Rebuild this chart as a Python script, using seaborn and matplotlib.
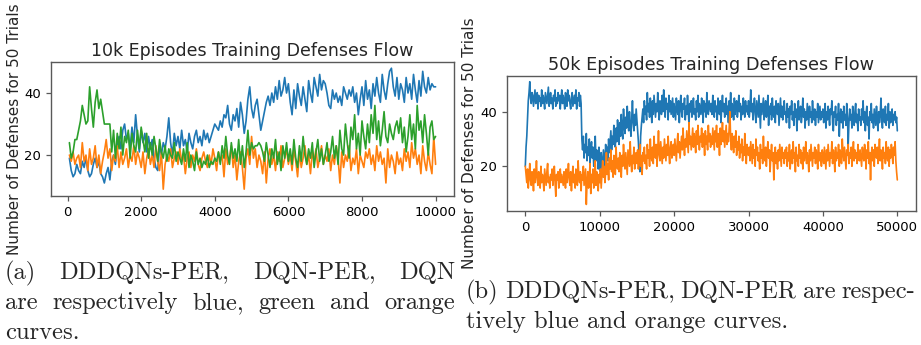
import matplotlib
matplotlib.use("Agg")
import matplotlib.pyplot as plt
import numpy as np
import pandas as pd
import seaborn as sns

# ---- (a) 10k episodes, one value every 50 episodes ----
x_10k = np.arange(50, 10001, 50)
ddqn_per_10k = [
    19, 15, 13, 14, 17, 15, 14, 18, 16, 19, 15, 13, 14, 17, 19, 16, 18, 14, 13, 11,
    14, 16, 12, 18, 20, 17, 23, 26, 22, 28, 30, 25, 27, 22, 29, 24, 33, 26, 21, 28,
    24, 27, 21, 26, 22, 25, 19, 16, 15, 23, 20, 24, 22, 26, 32, 24, 20, 27, 23, 26,
    22, 28, 23, 25, 21, 27, 24, 22, 26, 28, 24, 26, 23, 28, 25, 27, 24, 26, 28, 30,
    29, 28, 31, 29, 33, 32, 36, 30, 28, 33, 31, 35, 29, 37, 33, 27, 31, 38, 42, 35,
    32, 36, 38, 33, 28, 31, 34, 37, 39, 36, 40, 37, 42, 38, 44, 39, 41, 45, 40, 43,
    37, 33, 41, 35, 43, 39, 36, 42, 38, 34, 44, 40, 37, 45, 42, 39, 46, 41, 44, 43,
    40, 36, 35, 41, 38, 40, 37, 39, 36, 42, 40, 38, 41, 39, 42, 37, 40, 33, 38, 42,
    36, 44, 38, 41, 35, 43, 39, 45, 40, 37, 46, 41, 38, 43, 47, 48, 42, 39, 45, 38,
    43, 41, 37, 45, 40, 43, 38, 46, 41, 37, 44, 39, 47, 42, 40, 45, 41, 43, 42, 42,
]
dqn_per_10k = [
    24, 19, 21, 25, 25, 28, 31, 36, 33, 30, 31, 42, 35, 29, 37, 41, 35, 38, 34, 30,
    30, 30, 30, 21, 28, 19, 27, 22, 29, 20, 26, 24, 28, 19, 27, 23, 21, 28, 22, 29,
    25, 21, 27, 19, 24, 20, 26, 22, 18, 25, 21, 19, 23, 18, 22, 20, 19, 24, 18, 21,
    19, 17, 22, 18, 24, 16, 20, 18, 15, 21, 17, 19, 16, 18, 17, 20, 16, 18, 17, 19,
    18, 21, 17, 23, 19, 26, 20, 17, 24, 19, 22, 18, 25, 17, 23, 16, 21, 28, 20, 24,
    22, 23, 23, 24, 23, 21, 18, 24, 20, 16, 22, 19, 25, 17, 21, 15, 23, 19, 24, 18,
    22, 17, 25, 19, 16, 23, 18, 26, 20, 17, 22, 19, 24, 16, 21, 25, 18, 22, 17, 20,
    24, 18, 21, 26, 19, 23, 17, 28, 22, 20, 30, 24, 19, 29, 25, 33, 22, 27, 20, 31,
    26, 22, 30, 24, 33, 27, 36, 25, 31, 23, 28, 34, 26, 24, 30, 27, 25, 29, 31, 27,
    32, 24, 29, 21, 26, 33, 25, 30, 22, 36, 28, 31, 24, 33, 27, 20, 29, 31, 25, 26,
]
dqn_10k = [
    20, 18, 21, 17, 19, 20, 16, 24, 18, 20, 15, 22, 17, 19, 23, 16, 20, 14, 18, 21,
    25, 19, 22, 15, 20, 18, 23, 16, 21, 17, 19, 22, 16, 20, 18, 23, 17, 21, 19, 16,
    21, 14, 19, 22, 17, 20, 16, 23, 18, 15, 21, 9, 17, 20, 18, 22, 16, 19, 21, 17,
    22, 18, 20, 14, 19, 21, 16, 20, 18, 22, 17, 15, 19, 21, 18, 16, 20, 17, 22, 19,
    15, 21, 18, 20, 13, 22, 17, 19, 23, 16, 20, 12, 18, 21, 16, 9, 19, 22, 17, 26,
    19, 22, 16, 20, 18, 14, 21, 11, 19, 22, 17, 20, 15, 21, 18, 23, 16, 19, 22, 17,
    20, 15, 22, 18, 13, 21, 16, 19, 23, 17, 20, 14, 21, 18, 22, 16, 19, 23, 17, 20,
    18, 22, 15, 20, 17, 23, 19, 11, 21, 16, 20, 18, 23, 15, 19, 17, 22, 14, 20, 18,
    16, 21, 19, 22, 17, 20, 15, 23, 18, 21, 17, 19, 11, 22, 16, 20, 18, 14, 21, 17,
    19, 15, 22, 18, 21, 16, 24, 19, 22, 17, 20, 14, 23, 18, 15, 21, 17, 14, 26, 17,
]

# ---- (b) 50k episodes, one value every 100 episodes ----
x_50k = np.arange(0, 50001, 100)
ddqn_per_50k = [
    20, 27, 31, 38, 44, 47, 51, 45, 43, 47, 46, 42, 45, 48, 43, 44, 47, 41, 46, 44,
    45, 42, 48, 43, 46, 44, 41, 47, 45, 43, 46, 49, 42, 44, 47, 43, 45, 41, 46, 44,
    48, 42, 45, 43, 47, 44, 46, 41, 45, 48,
    43, 46, 44, 41, 47, 45, 42, 48, 44, 46, 43, 41, 45, 47, 42, 44, 46, 43, 48, 41,
    45, 44, 47, 42, 46, 43, 30, 26, 31, 23, 28, 25, 32, 22, 27, 24, 30, 21, 26, 29,
    23, 27, 20, 25, 31, 22, 26, 24, 19, 27,
    22, 18, 25, 21, 19, 26, 23, 20, 28, 24, 27, 22, 30, 25, 29, 33, 26, 31, 28, 35,
    30, 27, 34, 29, 37, 32, 28, 36, 31, 39, 33, 30, 41, 35, 32, 38, 34, 42, 36, 33,
    40, 35, 31, 38, 44, 36, 33, 39, 35, 41,
    37, 33, 29, 22, 18, 31, 35, 38, 41, 36, 44, 39, 42, 37, 47, 40, 43, 38, 45, 41,
    36, 44, 39, 46, 42, 38, 43, 40, 47, 41, 37, 44, 42, 39, 46, 40, 48, 42, 38, 45,
    41, 43, 37, 46, 40, 44, 39, 42, 45, 38,
    43, 40, 37, 45, 41, 39, 44, 36, 42, 46, 40, 38, 43, 41, 45, 37, 42, 39, 46, 41,
    35, 43, 40, 44, 38, 42, 45, 39, 41, 37, 44, 40, 46, 38, 43, 41, 39, 45, 42, 36,
    44, 40, 43, 38, 47, 41, 39, 44, 42, 40,
    43, 39, 46, 41, 38, 44, 40, 42, 37, 45, 41, 39, 44, 36, 42, 46, 40, 43, 38, 41,
    45, 39, 42, 36, 44, 40, 47, 38, 43, 41, 37, 45, 39, 42, 44, 38, 41, 46, 40, 43,
    37, 42, 39, 45, 41, 38, 44, 40, 42, 39,
    44, 38, 41, 48, 40, 43, 37, 42, 45, 39, 36, 44, 41, 38, 46, 40, 34, 43, 39, 42,
    45, 37, 41, 44, 38, 40, 46, 35, 42, 39, 43, 37, 45, 40, 38, 42, 36, 44, 41, 39,
    43, 35, 40, 45, 38, 42, 37, 41, 44, 39,
    40, 36, 43, 38, 41, 34, 42, 39, 44, 37, 40, 35, 43, 38, 41, 33, 39, 44, 37, 40,
    42, 36, 39, 45, 38, 41, 34, 40, 37, 43, 39, 35, 42, 38, 40, 36, 44, 39, 37, 41,
    35, 40, 38, 43, 36, 39, 42, 37, 40, 38,
    41, 36, 39, 43, 34, 40, 37, 42, 38, 35, 41, 39, 44, 36, 33, 40, 38, 42, 35, 39,
    37, 43, 31, 38, 41, 36, 40, 34, 42, 37, 39, 35, 43, 38, 28, 36, 41, 37, 39, 34,
    42, 38, 35, 40, 43, 36, 39, 33, 41, 37,
    38, 35, 41, 37, 44, 36, 40, 33, 39, 42, 35, 38, 30, 40, 37, 43, 36, 39, 34, 41,
    38, 35, 42, 37, 33, 40, 36, 39, 45, 37, 34, 41, 38, 36, 42, 35, 39, 37, 43, 34,
    40, 36, 38, 41, 35, 39, 37, 40, 36, 38,
    33,
]
dqn_per_50k = [
    20, 17, 14, 19, 12, 16, 21, 15, 13, 18, 16, 11, 19, 14, 17, 22, 15, 13, 18, 16,
    12, 20, 14, 17, 15, 11, 19, 16, 13, 18, 21, 14, 16, 12, 17, 15, 19, 13, 16, 20,
    14, 9, 17, 15, 18, 12, 16, 19, 14, 17,
    15, 13, 18, 16, 12, 19, 14, 17, 21, 15, 13, 18, 11, 16, 20, 14, 17, 12, 19, 15,
    13, 22, 16, 14, 18, 11, 17, 15, 20, 13, 16, 19, 6, 14, 18, 12, 16, 21, 10, 17,
    14, 19, 12, 16, 22, 13, 18, 15, 11, 17,
    14, 19, 12, 17, 22, 16, 20, 14, 18, 25, 17, 21, 15, 23, 19, 26, 18, 22, 16, 24,
    20, 17, 27, 21, 19, 23, 18, 25, 21, 16, 24, 20, 28, 22, 19, 25, 21, 17, 26, 23,
    20, 29, 22, 18, 24, 21, 27, 19, 23, 25,
    21, 26, 19, 23, 28, 20, 24, 17, 25, 22, 27, 21, 24, 19, 28, 23, 26, 20, 30, 24,
    22, 27, 21, 31, 25, 23, 28, 20, 26, 33, 24, 22, 29, 25, 21, 27, 23, 30, 26, 22,
    28, 24, 31, 25, 21, 27, 29, 23, 26, 28,
    24, 30, 26, 22, 28, 32, 25, 29, 23, 27, 31, 26, 34, 28, 24, 30, 27, 33, 29, 25,
    36, 28, 31, 26, 30, 34, 27, 32, 29, 25, 33, 28, 35, 30, 26, 31, 29, 34, 27, 32,
    30, 24, 33, 28, 31, 26, 35, 29, 32, 27,
    31, 28, 34, 30, 26, 33, 29, 35, 27, 32, 30, 24, 34, 28, 31, 36, 29, 33, 27, 31,
    35, 28, 32, 29, 34, 40, 30, 26, 32, 29, 25, 31, 27, 33, 24, 29, 26, 31, 23, 28,
    25, 30, 22, 27, 24, 32, 26, 21, 28, 25,
    24, 27, 22, 29, 25, 21, 28, 23, 26, 20, 30, 24, 27, 22, 25, 19, 28, 23, 26, 21,
    31, 24, 22, 27, 20, 25, 29, 23, 26, 18, 24, 28, 22, 25, 15, 23, 27, 21, 25, 19,
    26, 22, 28, 24, 20, 27, 23, 25, 21, 26,
    23, 27, 20, 25, 22, 28, 19, 24, 26, 21, 29, 23, 25, 18, 27, 22, 24, 20, 28, 23,
    26, 21, 25, 19, 27, 22, 24, 29, 21, 25, 23, 18, 26, 22, 28, 24, 20, 25, 23, 27,
    21, 26, 24, 19, 28, 22, 25, 23, 20, 26,
    24, 21, 27, 23, 19, 26, 22, 28, 24, 20, 25, 23, 29, 21, 26, 24, 18, 27, 22, 25,
    23, 28, 20, 26, 24, 21, 30, 25, 22, 27, 23, 19, 26, 24, 28, 21, 25, 23, 27, 20,
    24, 29, 22, 26, 23, 25, 21, 28, 24, 22,
    26, 23, 20, 27, 24, 22, 28, 25, 19, 26, 23, 29, 21, 25, 15, 24, 27, 22, 26, 20,
    28, 24, 23, 27, 21, 25, 30, 22, 26, 24, 19, 27, 23, 25, 21, 29, 24, 22, 27, 20,
    26, 23, 28, 25, 21, 27, 24, 29, 22, 18,
    15,
]

COLORS = {"DDDQNs-PER": "#1f77b4", "DQN": "#ff7f0e", "DQN-PER": "#2ca02c"}
YLABEL = "Number of Defenses for 50 Trials"


def long_frame(x, series):
    parts = [pd.DataFrame({"episode": x, "defenses": vals, "model": name}) for name, vals in series]
    return pd.concat(parts, ignore_index=True)


def style_axes(ax):
    for s in ax.spines.values():
        s.set_color("0.35")
        s.set_linewidth(1.0)
    ax.tick_params(colors="0.35", labelcolor="black", labelsize=9.5, length=3.5, width=0.9)


def justify(fig, words, x0, x1, y, size):
    # spread words so the line runs from x0 to x1 (pixels)
    texts = [fig.text(0, 0, w, fontsize=size, family="cmr10", va="baseline",
                      transform=None) for w in words]
    r = fig.canvas.get_renderer()
    widths = [t.get_window_extent(r).width for t in texts]
    gap = (x1 - x0 - sum(widths)) / (len(words) - 1)
    pos = x0
    for t, w in zip(texts, widths):
        t.set_position((pos, y))
        pos += w + gap


sns.set_style("ticks")
plt.rcParams["font.family"] = ["DejaVu Sans"]

H = 345
fig = plt.figure(figsize=(9.21, 3.45), dpi=100)

ax1 = fig.add_axes([51 / 921, 1 - 196 / H, 403 / 921, 134 / H])
df10 = long_frame(x_10k, [("DDDQNs-PER", ddqn_per_10k), ("DQN", dqn_10k), ("DQN-PER", dqn_per_10k)])
sns.lineplot(data=df10, x="episode", y="defenses", hue="model", palette=COLORS,
             hue_order=["DDDQNs-PER", "DQN", "DQN-PER"], linewidth=1.2, legend=False, ax=ax1)
ax1.set_xlim(-450, 10500)
ax1.set_ylim(6.8, 50)
ax1.set_xticks(range(0, 10001, 2000))
ax1.set_yticks([20, 40])
ax1.set_xlabel("")
ax1.set_ylabel(YLABEL, fontsize=11)
ax1.yaxis.set_label_coords(-0.071, 0.5)
ax1.set_title("10k Episodes Training Defenses Flow", fontsize=12.5, pad=4)
style_axes(ax1)

ax2 = fig.add_axes([506.7 / 921, 1 - 211 / H, 409 / 921, 135.3 / H])
df50 = long_frame(x_50k, [("DDDQNs-PER", ddqn_per_50k), ("DQN", dqn_per_50k)])
sns.lineplot(data=df50, x="episode", y="defenses", hue="model", palette=COLORS,
             hue_order=["DDDQNs-PER", "DQN"], linewidth=1.2, legend=False, ax=ax2)
ax2.set_xlim(-2500, 52470)
ax2.set_ylim(3.6, 53.2)
ax2.set_xticks(range(0, 50001, 10000))
ax2.set_yticks([20, 40])
ax2.set_xlabel("")
ax2.set_ylabel(YLABEL, fontsize=11)
ax2.yaxis.set_label_coords(-0.073, 0.5)
ax2.set_title("50k Episodes Training Defenses Flow", fontsize=12.7, pad=4)
style_axes(ax2)

# captions (pixel coords, y measured from bottom)
cap = 17.7
justify(fig, ["(a)", "DDDQNs-PER,", "DQN-PER,", "DQN"], 5, 455, H - 279, cap)
justify(fig, "are respectively blue, green and orange".split(), 5, 455, H - 309, cap)
fig.text(5, H - 339, "curves.", fontsize=cap, family="cmr10", va="baseline", transform=None)
justify(fig, "(b) DDDQNs-PER, DQN-PER are respec-".split(), 466, 915, H - 298, cap)
fig.text(466, H - 328, "tively blue and orange curves.", fontsize=cap, family="cmr10",
         va="baseline", transform=None)

fig.savefig("out.png", dpi=100)
